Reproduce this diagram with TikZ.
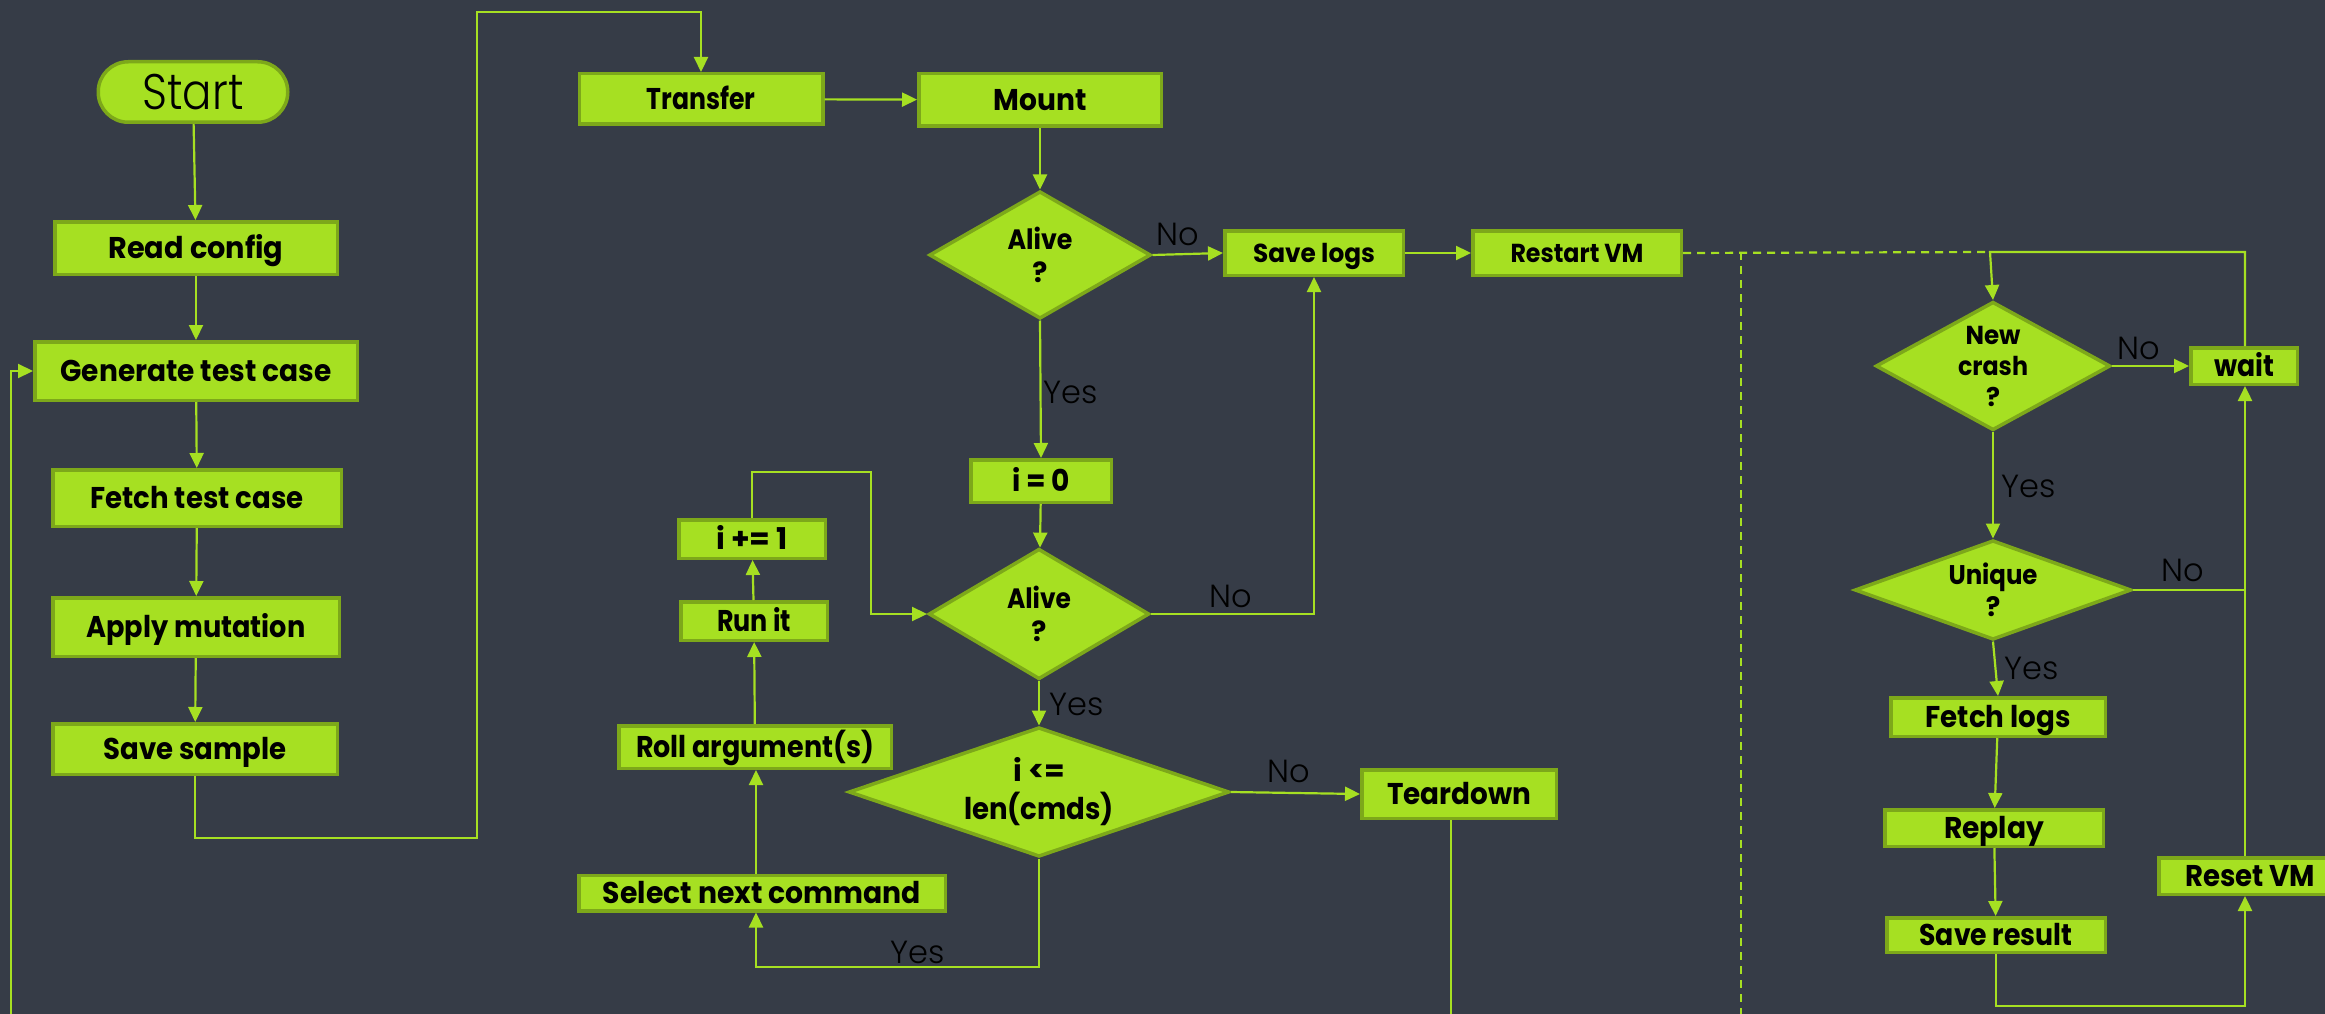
\documentclass[tikz,border=0pt]{standalone}
\usepackage{fontspec}
\usepackage{graphicx}
\usetikzlibrary{shapes.geometric,arrows.meta}
\setmainfont{Poppins}
\IfFontExistsTF{Poppins Light}{\newfontfamily\lightfont{Poppins Light}}{%
  \IfFontExistsTF{Poppins-Light}{\newfontfamily\lightfont{Poppins-Light}}{%
    \newfontfamily\lightfont{Poppins}}}
\definecolor{bgc}{HTML}{363C47}
\definecolor{lime}{HTML}{A6E022}
\definecolor{limedark}{HTML}{7DA81A}
% squeeze a label horizontally to a given width, keeping its height
\newcommand\fitw[2]{\resizebox{#1}{\height}{#2}}
\tikzset{
  box/.style={rectangle, fill=lime, draw=limedark, line width=3.5pt, inner sep=0pt,
    text height=21pt, text depth=0pt, text=black,
    font=\fontsize{30}{33}\selectfont\bfseries},
  boxsm/.style={box, text height=18pt, font=\fontsize{26}{30}\selectfont\bfseries},
  dec/.style={diamond, fill=lime, draw=limedark, line width=3.5pt, inner sep=0pt,
    align=center, text=black, font=\fontsize{28}{33}\selectfont\bfseries},
  link/.style={draw=lime, line width=2.2pt},
  arr/.style={link, -{Triangle[length=15pt,width=14pt]}},
  dashlink/.style={link, dash pattern=on 8pt off 6pt},
  lbl/.style={font=\lightfont\fontsize{32}{34}\selectfont, text=black, inner sep=0pt},
}
\begin{document}
\begin{tikzpicture}[x=1pt,y=-1pt]
\clip (0,0) rectangle (2325,1014);
\fill[bgc] (0,0) rectangle (2325,1014);

% test case preparation
\node[rectangle, rounded corners=30pt, fill=lime, draw=limedark, line width=3.5pt,
  minimum width=189.5pt, minimum height=60.5pt, inner sep=0pt,
  font=\lightfont\fontsize{50}{52}\selectfont, text height=35pt, text depth=0pt]
  (start) at (193,92) {\fitw{101pt}{Start}};
\node[box, minimum width=282.5pt, minimum height=52.5pt] (read) at (196,248) {\fitw{175pt}{Read config}};
\node[box, minimum width=322.5pt, minimum height=58.5pt] (gen) at (196,371) {\fitw{271pt}{Generate test case}};
\node[box, minimum width=288.5pt, minimum height=56.5pt] (fetch) at (197,498) {\fitw{213pt}{Fetch test case}};
\node[box, minimum width=286.5pt, minimum height=58.5pt] (apply) at (196,627) {\fitw{219pt}{Apply mutation}};
\node[box, minimum width=284.5pt, minimum height=50.5pt] (savesample) at (195,749) {\fitw{183pt}{Save sample}};

% execution in the VM
\node[box, minimum width=243.5pt, minimum height=50.5pt] (transfer) at (701,99) {\fitw{109pt}{Transfer}};
\node[box, minimum width=242.5pt, minimum height=52.5pt] (mount) at (1040,100) {\fitw{93pt}{Mount}};
\node[dec, minimum width=221.5pt, minimum height=127.5pt, aspect=1.72] (alive1) at (1040,255) {\fitw{65pt}{Alive}\\?};
\node[boxsm, minimum width=178.5pt, minimum height=44.5pt] (savelogs) at (1314,253) {\fitw{122pt}{Save logs}};
\node[boxsm, minimum width=208.5pt, minimum height=44.5pt] (restart) at (1577,253) {\fitw{133pt}{Restart VM}};
\node[box, minimum width=140.5pt, minimum height=42.5pt] (izero) at (1041,481) {\fitw{58pt}{i = 0}};
\node[dec, minimum width=220.5pt, minimum height=130.5pt, aspect=1.68] (alive2) at (1039,614) {\fitw{64pt}{Alive}\\?};
\node[box, minimum width=146.5pt, minimum height=38.5pt] (iplus) at (752,539) {\fitw{72pt}{i += 1}};
\node[box, minimum width=146.5pt, minimum height=38.5pt] (runit) at (754,621) {\fitw{74pt}{Run it}};
\node[box, minimum width=272.5pt, minimum height=42.5pt] (roll) at (755,747) {\fitw{238pt}{Roll argument(s)}};
\node[box, minimum width=366.5pt, minimum height=35.5pt] (select) at (762,893) {\fitw{318pt}{Select next command}};
\node[dec, minimum width=380.5pt, minimum height=129.5pt, aspect=2.9,
  font=\fontsize{30}{38}\selectfont\bfseries] (ile) at (1039,792) {\fitw{52pt}{i <=}\\\fitw{150pt}{len(cmds)}};
\node[box, minimum width=194.5pt, minimum height=48.5pt] (teardown) at (1459,794) {\fitw{144pt}{Teardown}};

% crash triage
\node[dec, minimum width=234.5pt, minimum height=128.5pt, aspect=1.8,
  font=\fontsize{26}{31}\selectfont\bfseries] (newcrash) at (1993,366) {\fitw{55pt}{New}\\\fitw{70pt}{crash}\\?};
\node[box, minimum width=106.5pt, minimum height=36.5pt] (wait) at (2244,366) {\fitw{60pt}{wait}};
\node[dec, minimum width=276.5pt, minimum height=99.5pt, aspect=2.72,
  font=\fontsize{27}{32}\selectfont\bfseries] (unique) at (1993,590) {\fitw{89pt}{Unique}\\?};
\node[box, minimum width=214.5pt, minimum height=38.5pt] (fetchlogs) at (1998,717) {\fitw{145pt}{Fetch logs}};
\node[box, minimum width=218.5pt, minimum height=36.5pt] (replay) at (1994,828) {\fitw{100pt}{Replay}};
\node[box, minimum width=218.5pt, minimum height=34.5pt] (saveresult) at (1996,935) {\fitw{153pt}{Save result}};
\node[box, minimum width=182.5pt, minimum height=36.5pt] (reset) at (2250,876) {\fitw{130pt}{Reset VM}};

% bend points and loose ends
\coordinate (jA) at (477,838);
\coordinate (jB) at (477,12);
\coordinate (jC) at (1990,252);
\coordinate (jD) at (1741,252);
\coordinate (jL) at (11,1014);
\coordinate (jR) at (871,472);
\coordinate (jY) at (1039,967);
\coordinate (jX) at (756,967);
\coordinate (jS) at (2245,1006);
\coordinate (jT) at (1451,1014);

% left column
\draw[arr] (start) -- (read);
\draw[arr] (read) -- (gen);
\draw[arr] (gen) -- (fetch);
\draw[arr] (fetch) -- (apply);
\draw[arr] (apply) -- (savesample);
\draw[arr] (savesample.south) |- (jA) -- (jB) -| (transfer.north);
\draw[arr] (jL) |- (gen.west);

% middle column
\draw[arr] (transfer) -- (mount);
\draw[arr] (mount) -- (alive1);
\draw[arr] (alive1.east) -- (savelogs.west);
\draw[arr] (alive1.south) -- (izero.north);
\draw[arr] (savelogs) -- (restart);
\draw[arr] (izero) -- (alive2);
\draw[arr] (alive2.east) -- (alive2.east -| savelogs.south) -- (savelogs.south);
\draw[arr] (alive2.south) -- (ile.north);
\draw[arr] (ile.east) -- (teardown.west);
\draw[arr] (ile.south) -- (jY) -- (jX) -- (jX |- select.south);
\draw[arr] (jX |- select.north) -- (jX |- roll.south);
\draw[arr] (roll) -- (runit);
\draw[arr] (runit) -- (iplus);
\draw[arr] (iplus.north) |- (jR) |- (alive2.west);
\draw[link] (jT |- teardown.south) -- (jT);

% hand-over to triage
\draw[dashlink] (restart.east) -- (jC);
\draw[dashlink] (jD) -- (jD |- jL);

% right column
\draw[arr] (jS |- wait.north) |- (jC) -- (newcrash.north);
\draw[arr] (newcrash.east) -- (wait.west);
\draw[arr] (newcrash.south) -- (unique.north);
\draw[link] (unique.east) -- (jS |- unique.east);
\draw[arr] (jS |- reset.north) -- (jS |- wait.south);
\draw[arr] (unique.south) -- (fetchlogs.north);
\draw[arr] (fetchlogs) -- (replay);
\draw[arr] (replay) -- (saveresult);
\draw[arr] (saveresult.south) |- (jS) -- (jS |- reset.south);

% branch labels
\node[lbl] (no1) at (1178,234) {No};
\node[lbl] (yes1) at (1071,392) {Yes};
\node[lbl] (no2) at (1231,596) {No};
\node[lbl] (yes2) at (1077,704) {Yes};
\node[lbl] (no3) at (1289,771) {No};
\node[lbl] (yes3) at (918,952) {Yes};
\node[lbl] (no4) at (2139,348) {No};
\node[lbl] (yes4) at (2029,486) {Yes};
\node[lbl] (no5) at (2183,570) {No};
\node[lbl] (yes5) at (2032,668) {Yes};
\end{tikzpicture}
\end{document}
